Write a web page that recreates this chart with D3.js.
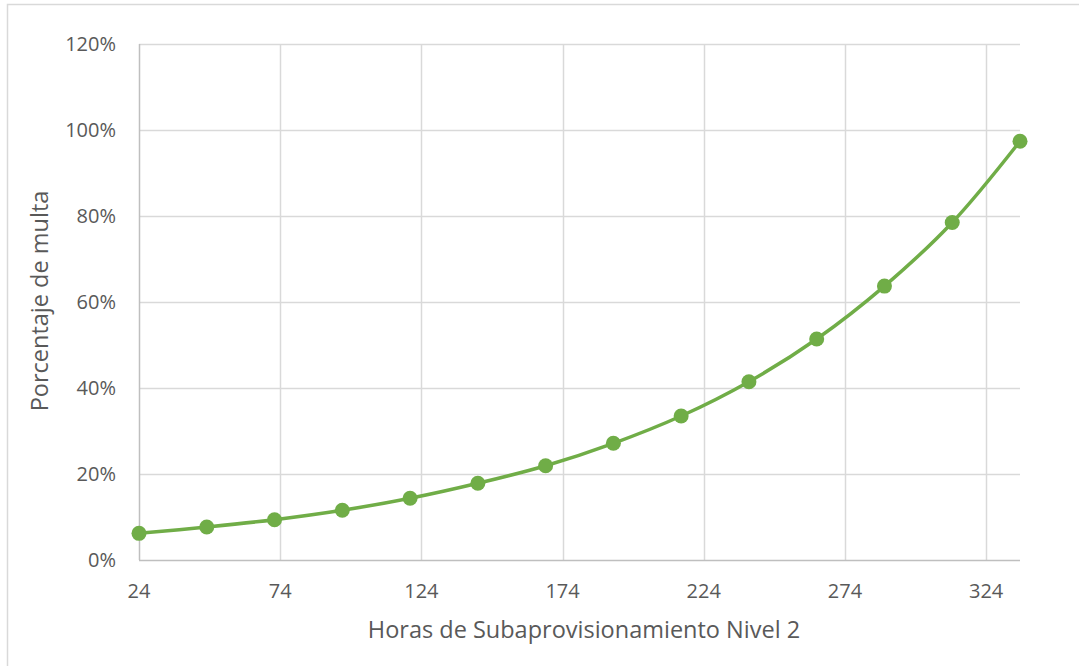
<!DOCTYPE html>
<html>
<head>
<meta charset="utf-8">
<script src="https://cdnjs.cloudflare.com/ajax/libs/d3/7.8.5/d3.min.js"></script>
<style>
  body { margin: 0; background: #fff; }
  #chart text { font-family: "Open Sans", "Noto Sans", sans-serif; fill: #595959; }
</style>
</head>
<body>
<div id="chart"></div>
<script>
// horas de subaprovisionamiento (nivel 2)
var horas = [24, 48, 72, 96, 120, 144, 168, 192, 216, 240, 264, 288, 312, 336];
// porcentaje de multa
var multa = [0.062, 0.0767, 0.0937, 0.1156, 0.1435, 0.1784, 0.2193, 0.2714, 0.3349, 0.4147, 0.514, 0.637, 0.785, 0.974];
var xTicks = [24, 74, 124, 174, 224, 274, 324];
var yTicks = [0, 0.2, 0.4, 0.6, 0.8, 1.0, 1.2];

var width = 1079, height = 666;
var margin = {top: 44, right: 59, bottom: 106, left: 139};

var svg = d3.select("#chart").append("svg")
    .attr("width", width)
    .attr("height", height);

// chart border
svg.append("rect")
    .attr("x", 7.5).attr("y", 4.5)
    .attr("width", width + 10).attr("height", height + 10)
    .style("fill", "none")
    .style("stroke", "#d9d9d9")
    .style("stroke-width", 1.5);

var x = d3.scaleLinear()
    .domain([24, 336])
    .range([margin.left, width - margin.right]);
var y = d3.scaleLinear()
    .domain([0, 1.2])
    .range([height - margin.bottom, margin.top]);

// gridlines
svg.append("g").selectAll("line")
    .data(yTicks.slice(1))
    .enter().append("line")
    .attr("x1", x(24)).attr("x2", x(336))
    .attr("y1", function(d) { return Math.round(y(d)) + 0.5; })
    .attr("y2", function(d) { return Math.round(y(d)) + 0.5; })
    .style("stroke", "#d9d9d9")
    .style("stroke-width", 1.5);
svg.append("g").selectAll("line")
    .data(xTicks.slice(1))
    .enter().append("line")
    .attr("y1", y(0)).attr("y2", y(1.2))
    .attr("x1", function(d) { return Math.round(x(d)) + 0.5; })
    .attr("x2", function(d) { return Math.round(x(d)) + 0.5; })
    .style("stroke", "#d9d9d9")
    .style("stroke-width", 1.5);

// axis lines
svg.append("line")
    .attr("x1", x(24)).attr("x2", x(336))
    .attr("y1", Math.round(y(0)) + 0.5).attr("y2", Math.round(y(0)) + 0.5)
    .style("stroke", "#bfbfbf").style("stroke-width", 1.5);
svg.append("line")
    .attr("x1", Math.round(x(24)) + 0.5).attr("x2", Math.round(x(24)) + 0.5)
    .attr("y1", y(0)).attr("y2", y(1.2))
    .style("stroke", "#bfbfbf").style("stroke-width", 1.5);

// tick labels
svg.append("g").selectAll("text")
    .data(yTicks)
    .enter().append("text")
    .attr("x", 116)
    .attr("y", function(d) { return y(d); })
    .attr("dy", "0.35em")
    .attr("text-anchor", "end")
    .style("font-size", "20px")
    .text(function(d) { return d3.format(".0%")(d); });
svg.append("g").selectAll("text")
    .data(xTicks)
    .enter().append("text")
    .attr("x", function(d) { return x(d); })
    .attr("y", 591)
    .attr("dy", "0.35em")
    .attr("text-anchor", "middle")
    .style("font-size", "20px")
    .text(function(d) { return d; });

// axis titles
svg.append("text")
    .attr("x", 584)
    .attr("y", 630)
    .attr("dy", "0.35em")
    .attr("text-anchor", "middle")
    .style("font-size", "23.5px")
    .text("Horas de Subaprovisionamiento Nivel 2");
svg.append("text")
    .attr("transform", "translate(40,301) rotate(-90)")
    .attr("dy", "0.35em")
    .attr("text-anchor", "middle")
    .style("font-size", "23.5px")
    .text("Porcentaje de multa");

// the series
var data = horas.map(function(h, i) { return {x: h, y: multa[i]}; });
var line = d3.line()
    .curve(d3.curveCatmullRom.alpha(0.5))
    .x(function(d) { return x(d.x); })
    .y(function(d) { return y(d.y); });

svg.append("path")
    .datum(data)
    .attr("d", line)
    .style("fill", "none")
    .style("stroke", "#70ad47")
    .style("stroke-width", 3.5);

svg.append("g").selectAll("circle")
    .data(data)
    .enter().append("circle")
    .attr("cx", function(d) { return x(d.x); })
    .attr("cy", function(d) { return y(d.y); })
    .attr("r", 7.5)
    .style("fill", "#70ad47");
</script>
</body>
</html>
